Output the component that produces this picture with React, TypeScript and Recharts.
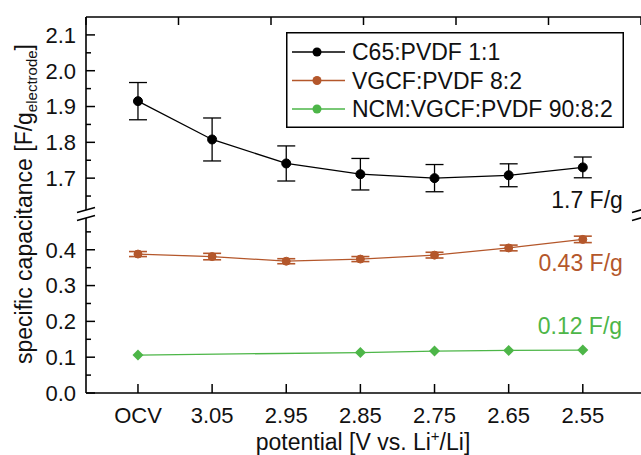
import React from "react";
import {
  LineChart,
  Line,
  XAxis,
  YAxis,
  ErrorBar,
  Legend,
  ReferenceDot,
} from "recharts";

const potentials = ["OCV", "3.05", "2.95", "2.85", "2.75", "2.65", "2.55"];
const seriesNames = ["C65:PVDF 1:1", "VGCF:PVDF 8:2", "NCM:VGCF:PVDF 90:8:2"];
const c65 = [1.915, 1.808, 1.741, 1.711, 1.7, 1.708, 1.73];
const c65Err = [0.052, 0.06, 0.049, 0.044, 0.038, 0.032, 0.029];
const vgcf = [0.388, 0.381, 0.368, 0.374, 0.385, 0.405, 0.429];
const vgcfErr = [0.007, 0.009, 0.007, 0.007, 0.008, 0.008, 0.009];
const ncm = [0.106, null, null, 0.113, 0.117, 0.119, 0.12];

const majorTicks = [0, 0.1, 0.2, 0.3, 0.4, 1.7, 1.8, 1.9, 2.0, 2.1];
const minorTicks = [0.05, 0.15, 0.25, 0.35, 0.45, 1.65, 1.75, 1.85, 1.95, 2.05];

const BLACK = "#000000";
const ORANGE = "#b4572b";
const GREEN = "#4db648";
const TEXT = "#111111";
const FONT = '"Liberation Sans", Arial, Helvetica, sans-serif';

// the y axis is broken between 0.5 and 1.6, upper values get shifted down
const GAP = 1.1;
const toAxis = (v: number) => (v > 1 ? v - GAP : v);
const fromAxis = (t: number) => (t > 0.5 ? t + GAP : t);

const rows = potentials.map((p, i) => ({
  idx: i,
  label: p,
  c65: toAxis(c65[i]),
  c65Err: c65Err[i],
  vgcf: vgcf[i],
  vgcfErr: vgcfErr[i],
  ncm: ncm[i],
}));

const xTicks = potentials.map((_, i) => i);
const yTicks = [...majorTicks, ...minorTicks].map(toAxis).sort((a, b) => a - b);
const isMajor = (t: number) =>
  majorTicks.some((m) => Math.abs(toAxis(m) - t) < 1e-6);

const X_DOMAIN: [number, number] = [-0.701, 6.785];
const Y_DOMAIN: [number, number] = [0, 1.05];

const LeftTick = (props: any) => {
  const { x, y, payload } = props;
  const axisX = x + 10;
  const major = isMajor(payload.value);
  return (
    <g>
      <line x1={axisX} x2={axisX + (major ? 9 : 5)} y1={y} y2={y} stroke={BLACK} strokeWidth={1.5} />
      {major && (
        <text x={x} y={y} dy="0.36em" textAnchor="end" fontSize={22} fontFamily={FONT} fill={TEXT}>
          {fromAxis(payload.value).toFixed(1)}
        </text>
      )}
    </g>
  );
};

const RightTick = (props: any) => {
  const { x, y, payload } = props;
  const major = isMajor(payload.value);
  return <line x1={x} x2={x - (major ? 8 : 4)} y1={y} y2={y} stroke={BLACK} strokeWidth={1.5} />;
};

const TopTick = (props: any) => {
  const { x, y } = props;
  return <line x1={x} x2={x} y1={y} y2={y + 8} stroke={BLACK} strokeWidth={1.5} />;
};

const BottomTick = (props: any) => {
  const { x, y, payload } = props;
  const axisY = y - 14;
  return (
    <g>
      <line x1={x} x2={x} y1={axisY} y2={axisY - 9} stroke={BLACK} strokeWidth={1.5} />
      <text x={x} y={y} dy="0.71em" textAnchor="middle" fontSize={22} fontFamily={FONT} fill={TEXT}>
        {potentials[payload.value]}
      </text>
    </g>
  );
};

const BreakMark = (props: any) => {
  const { cx, cy } = props;
  return (
    <g>
      <polygon
        points={`${cx - 9},${cy + 6.5} ${cx + 9},${cy + 1.5} ${cx + 9},${cy - 6.5} ${cx - 9},${cy - 1.5}`}
        fill="#fff"
      />
      <line x1={cx - 9} y1={cy + 6.5} x2={cx + 9} y2={cy + 1.5} stroke={BLACK} strokeWidth={1.6} />
      <line x1={cx - 9} y1={cy - 1.5} x2={cx + 9} y2={cy - 6.5} stroke={BLACK} strokeWidth={1.6} />
    </g>
  );
};

const note = (text: string, color: string) => (props: any) => (
  <text x={props.cx} y={props.cy} dy="0.36em" textAnchor="end" fontSize={23} fontFamily={FONT} fill={color}>
    {text}
  </text>
);

const NcmDot = (props: any) => {
  const { cx, cy, index } = props;
  if (cx == null || cy == null) return <g key={`ncm-${index}`} />;
  const s = 5.5;
  return (
    <path
      key={`ncm-${index}`}
      d={`M${cx},${cy - s}L${cx + s},${cy}L${cx},${cy + s}L${cx - s},${cy}Z`}
      fill={GREEN}
    />
  );
};

const LegendBox = (props: any) => {
  const items = ([...(props.payload || [])] as any[]).sort(
    (a, b) => seriesNames.indexOf(a.value) - seriesNames.indexOf(b.value)
  );
  return (
    <svg width={338} height={96} style={{ display: "block" }}>
      <rect x={0.75} y={0.75} width={336.5} height={94.5} fill="#fff" stroke={BLACK} strokeWidth={1.5} />
      {items.map((it, i) => {
        const cy = 20 + i * 28.5;
        return (
          <g key={it.value}>
            <line x1={6} x2={59} y1={cy} y2={cy} stroke={it.color} strokeWidth={1.3} />
            <circle cx={31} cy={cy} r={4.5} fill={it.color} />
            <text x={66} y={cy} dy="0.36em" fontSize={23} fontFamily={FONT} fill={TEXT}>
              {it.value}
            </text>
          </g>
        );
      })}
    </svg>
  );
};

const YTitle = () => (
  <text transform="translate(32,204) rotate(-90)" textAnchor="middle" fontSize={23} fontFamily={FONT} fill={TEXT}>
    specific capacitance [F/g
    <tspan fontSize={15} dy={5}>electrode</tspan>
    <tspan dy={-5}>]</tspan>
  </text>
);

const XTitle = () => (
  <text x={363} y={450} textAnchor="middle" fontSize={23} fontFamily={FONT} fill={TEXT}>
    potential [V vs. Li
    <tspan fontSize={15} dy={-9}>+</tspan>
    <tspan dy={9}>/Li]</tspan>
  </text>
);

export default function App() {
  return (
    <div style={{ position: "absolute", left: 0, top: 0, background: "#fff" }}>
      <LineChart width={641} height={455} data={rows} margin={{ top: 0, right: 0, bottom: 0, left: 0 }}>
        <XAxis
          xAxisId="main"
          dataKey="idx"
          type="number"
          domain={X_DOMAIN}
          ticks={xTicks}
          interval={0}
          height={62}
          tickSize={0}
          tickMargin={14}
          tickLine={false}
          axisLine={{ stroke: BLACK, strokeWidth: 1.6 }}
          tick={(p: any) => <BottomTick {...p} />}
          allowDataOverflow
          label={{ content: () => <XTitle /> }}
        />
        <XAxis
          xAxisId="top"
          orientation="top"
          type="number"
          domain={X_DOMAIN}
          ticks={xTicks}
          interval={0}
          height={17}
          tickSize={0}
          tickMargin={0}
          tickLine={false}
          axisLine={{ stroke: BLACK, strokeWidth: 1.6 }}
          tick={(p: any) => <TopTick {...p} />}
          allowDataOverflow
        />
        <YAxis
          yAxisId="main"
          type="number"
          domain={Y_DOMAIN}
          ticks={yTicks}
          interval={0}
          width={86}
          tickSize={0}
          tickMargin={10}
          tickLine={false}
          axisLine={{ stroke: BLACK, strokeWidth: 1.6 }}
          tick={(p: any) => <LeftTick {...p} />}
          allowDataOverflow
          label={{ content: () => <YTitle /> }}
        />
        <YAxis
          yAxisId="right"
          orientation="right"
          type="number"
          domain={Y_DOMAIN}
          ticks={yTicks}
          interval={0}
          width={0}
          tickSize={0}
          tickMargin={0}
          tickLine={false}
          axisLine={{ stroke: BLACK, strokeWidth: 1.6 }}
          tick={(p: any) => <RightTick {...p} />}
          allowDataOverflow
        />
        <Legend
          layout="vertical"
          align="center"
          verticalAlign="middle"
          wrapperStyle={{ left: 286, top: 32, width: 338, height: 96 }}
          content={(p: any) => <LegendBox {...p} />}
        />
        <Line
          xAxisId="main"
          yAxisId="main"
          name={seriesNames[0]}
          dataKey="c65"
          stroke={BLACK}
          strokeWidth={1.3}
          dot={{ r: 4.5, fill: BLACK, stroke: BLACK, strokeWidth: 1 }}
          isAnimationActive={false}
        >
          <ErrorBar dataKey="c65Err" width={9} stroke={BLACK} strokeWidth={1.3} direction="y" />
        </Line>
        <Line
          xAxisId="main"
          yAxisId="main"
          name={seriesNames[1]}
          dataKey="vgcf"
          stroke={ORANGE}
          strokeWidth={1.3}
          dot={{ r: 4, fill: ORANGE, stroke: ORANGE, strokeWidth: 1 }}
          isAnimationActive={false}
        >
          <ErrorBar dataKey="vgcfErr" width={9} stroke={ORANGE} strokeWidth={1.6} direction="y" />
        </Line>
        <Line
          xAxisId="main"
          yAxisId="main"
          name={seriesNames[2]}
          dataKey="ncm"
          stroke={GREEN}
          strokeWidth={1.3}
          connectNulls
          dot={(p: any) => <NcmDot {...p} />}
          isAnimationActive={false}
        />
        <ReferenceDot xAxisId="main" yAxisId="main" x={6.54} y={0.539} r={0} ifOverflow="visible" shape={note("1.7 F/g", TEXT)} />
        <ReferenceDot xAxisId="main" yAxisId="main" x={6.54} y={0.363} r={0} ifOverflow="visible" shape={note("0.43 F/g", ORANGE)} />
        <ReferenceDot xAxisId="main" yAxisId="main" x={6.53} y={0.187} r={0} ifOverflow="visible" shape={note("0.12 F/g", GREEN)} />
        <ReferenceDot xAxisId="main" yAxisId="main" x={X_DOMAIN[0]} y={0.5} r={0} ifOverflow="visible" shape={(p: any) => <BreakMark {...p} />} />
        <ReferenceDot xAxisId="main" yAxisId="main" x={X_DOMAIN[1]} y={0.5} r={0} ifOverflow="visible" shape={(p: any) => <BreakMark {...p} />} />
      </LineChart>
    </div>
  );
}
